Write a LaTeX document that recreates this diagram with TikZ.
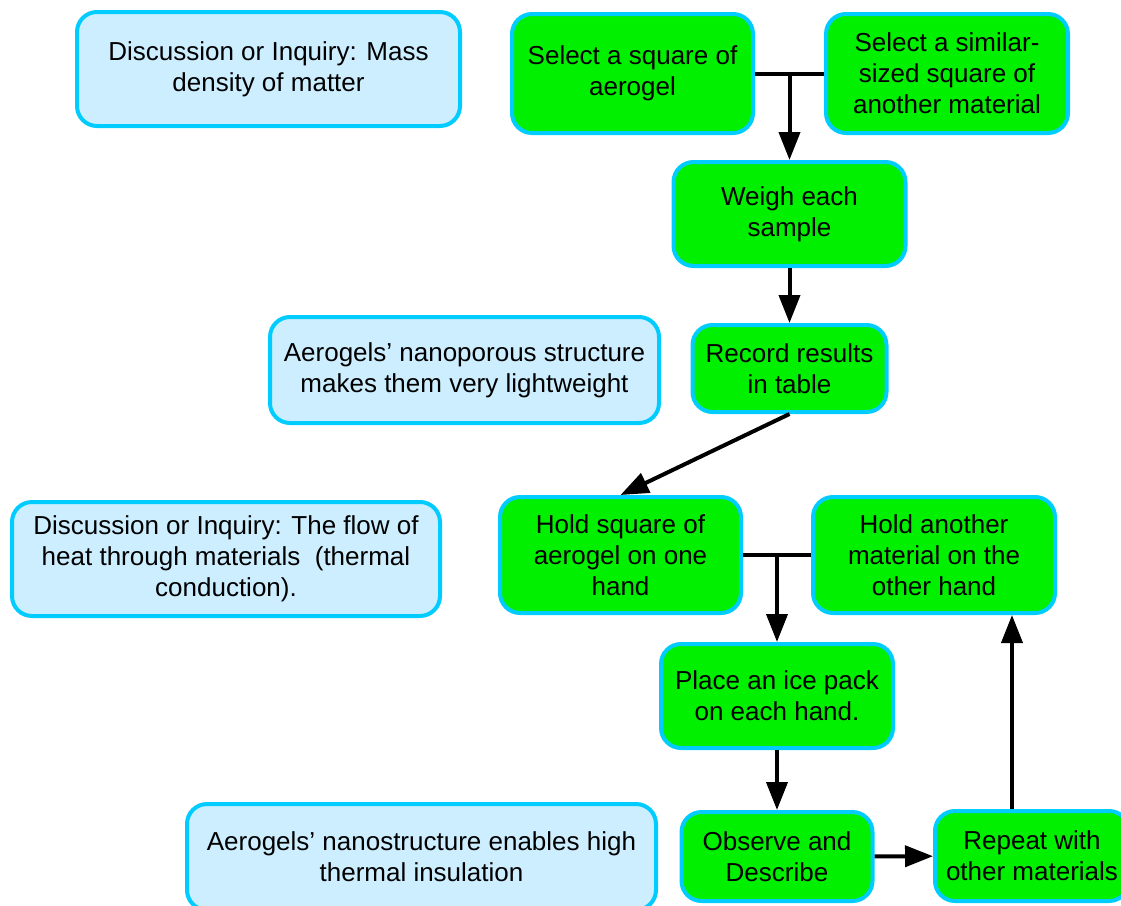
\documentclass[tikz,border=0pt]{standalone}
\usepackage{fontspec}
\setmainfont{Liberation Sans}
\usetikzlibrary{arrows.meta}
\definecolor{boxline}{HTML}{00CCFF}
\definecolor{stepgreen}{HTML}{00F000}
\definecolor{notefill}{HTML}{CCEEFF}
\begin{document}
\begin{tikzpicture}[x=1pt,y=-1pt,
    box/.style={draw=boxline,line width=4pt,rounded corners=20pt,align=center,
      inner sep=0pt,font=\fontsize{26}{31}\selectfont},
    stepbox/.style={box,fill=stepgreen},
    notebox/.style={box,fill=notefill},
    link/.style={line width=4pt,-{Triangle[length=28pt,width=21pt]}}]
  \useasboundingbox (0,0) rectangle (1121,905);

  % discussion notes (left column)
  \node[notebox,minimum width=383pt,minimum height=114pt] (mass) at (268.5,69)
    {Discussion or Inquiry: Mass\\density of matter};
  \node[notebox,minimum width=389pt,minimum height=106pt] (light) at (464.5,370)
    {Aerogels’ nanoporous structure\\makes them very lightweight};
  \node[notebox,minimum width=428pt,minimum height=114pt] (flow) at (226,559)
    {Discussion or Inquiry: The flow of\\heat through materials \ (thermal\\conduction).};
  \node[notebox,minimum width=469pt,minimum height=106pt] (insul) at (421.5,857)
    {Aerogels’ nanostructure enables high\\thermal insulation};

  % mass density steps
  \node[stepbox,minimum width=241pt,minimum height=119pt] (selA) at (632.5,73.5)
    {Select a square of\\aerogel};
  \node[stepbox,minimum width=242pt,minimum height=119pt] (selB) at (947,73.5)
    {Select a similar-\\sized square of\\another material};
  \node[stepbox,minimum width=232pt,minimum height=104pt] (weigh) at (789.5,214)
    {Weigh each\\sample};
  \node[stepbox,minimum width=194pt,minimum height=87pt] (record) at (789.5,368.5)
    {Record results\\in table};

  % thermal conduction steps
  \node[stepbox,minimum width=241pt,minimum height=116pt] (holdA) at (620.5,555)
    {Hold square of\\aerogel on one\\hand};
  \node[stepbox,minimum width=242pt,minimum height=116pt] (holdB) at (934,555)
    {Hold another\\material on the\\other hand};
  \node[stepbox,minimum width=232pt,minimum height=104pt] (place) at (777,696)
    {Place an ice pack\\on each hand.};
  \node[stepbox,minimum width=191pt,minimum height=89pt] (observe) at (777,856.5)
    {Observe and\\Describe};
  \node[stepbox,minimum width=194pt,minimum height=90pt] (repeat) at (1032,856)
    {Repeat with\\other materials};

  % connectors
  \draw[line width=4pt] (selA.east) -- coordinate[pos=0.5] (j1) (selB.west);
  \draw[link] (j1) -- (j1 |- weigh.north);
  \draw[link] (weigh) -- (record);
  \draw[link] (record.south) -- (holdA.north);
  \draw[line width=4pt] (holdA.east) -- coordinate[pos=0.5] (j2) (holdB.west);
  \draw[link] (j2) -- (j2 |- place.north);
  \draw[link] (place) -- (observe);
  \draw[link] (observe) -- (repeat);
  \draw[link] ([xshift=-20pt]repeat.north) -- ([xshift=-20pt]repeat.north |- holdB.south);

\end{tikzpicture}
\end{document}
